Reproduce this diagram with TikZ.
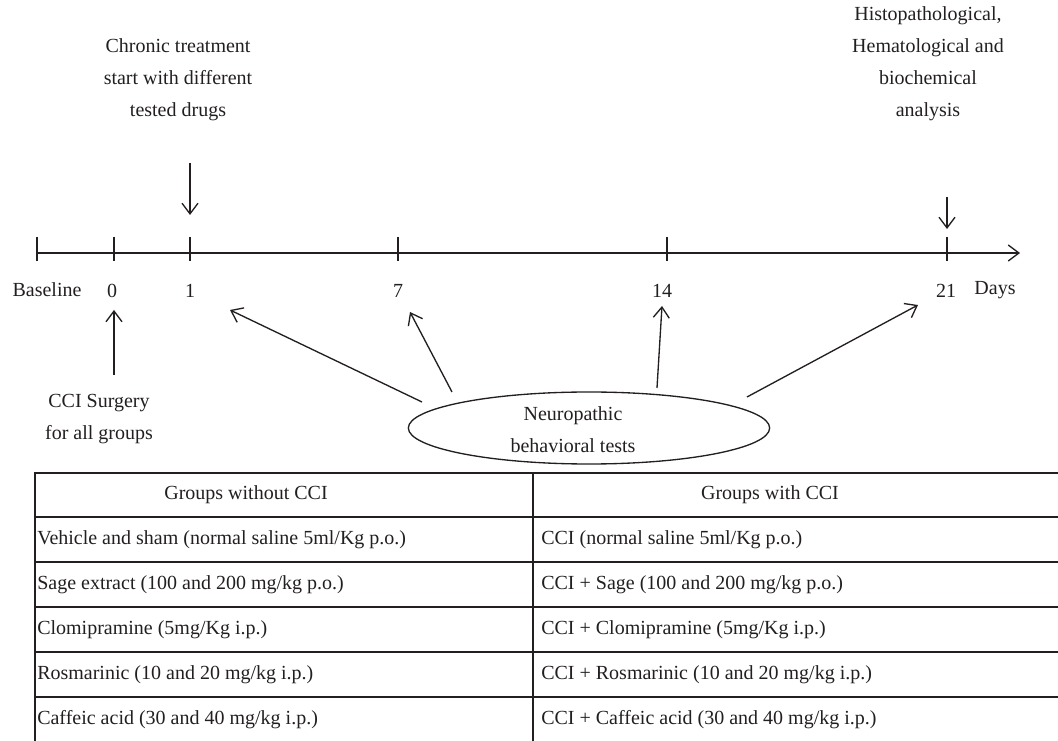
\documentclass[tikz,border=0pt]{standalone}
\usepackage{fontspec}
\setmainfont{Liberation Serif}
\usetikzlibrary{arrows.meta,shapes.geometric}
\definecolor{ink}{HTML}{231F20}
\begin{document}
\begin{tikzpicture}[x=0.75pt,y=-0.75pt,
  every node/.style={text=ink},
  lbl/.style={font=\fontsize{15}{24}\selectfont, inner sep=0pt, align=center},
  cell/.style={font=\fontsize{15}{18}\selectfont, inner sep=0pt, anchor=west},
  arr/.style={draw=ink, line width=1pt, -{Straight Barb[length=8pt,width=12pt,line width=1pt]}},
  axis/.style={draw=ink, line width=1.4pt},
  tbl/.style={draw=ink, line width=2pt}]
\useasboundingbox (0,0) rectangle (1058,741);

% timeline
\coordinate (tb) at (37,253);
\coordinate (tz) at (114,253);
\coordinate (t1) at (190,253);
\coordinate (t7) at (398,253);
\coordinate (t14) at (667,253);
\coordinate (t21) at (947,253);
\coordinate (tend) at (1020,253);
\draw[axis, -{Straight Barb[length=8pt,width=12pt,line width=1pt]}] (tb) -- (tend);
\foreach \c in {tb,tz,t1,t7,t14,t21}
  \draw[axis] (\c) ++(0,-16) -- ++(0,24);

% axis labels
\node[lbl] (lbase) at (47,290) {Baseline};
\node[lbl] (l0) at (112,291) {0};
\node[lbl] (l1) at (190,291) {1};
\node[lbl] (l7) at (398,291) {7};
\node[lbl] (l14) at (662,291) {14};
\node[lbl] (l21) at (946,291) {21};
\node[lbl] (ldays) at (995,290) {Days};

% top annotations
\node[lbl] (chronic) at (178,80) {Chronic treatment\\start with different\\tested drugs};
\node[lbl] (histo) at (928,64) {Histopathological,\\Hematological and\\biochemical\\analysis};
\coordinate (chrA) at (190,163);
\coordinate (chrB) at (190,215);
\draw[arr] (chrA) -- (chrB);
\coordinate (hisA) at (947,197);
\coordinate (hisB) at (947,229);
\draw[arr] (hisA) -- (hisB);

% CCI surgery
\node[lbl] (cci) at (99,419) {CCI Surgery\\for all groups};
\coordinate (cciA) at (114,375);
\coordinate (cciB) at (114,310);
\draw[arr] (cciA) -- (cciB);

% ellipse
\node[draw=ink, line width=1pt, ellipse, minimum width=271pt, minimum height=54pt, inner sep=0pt] (ell) at (589,428) {};
\node[lbl] (neuro) at (573,430) {Neuropathic\\behavioral tests};
\coordinate (e1) at (422,402);
\coordinate (p1) at (230,310);
\coordinate (e7) at (452,392);
\coordinate (p7) at (410,312);
\coordinate (e14) at (657,388);
\coordinate (p14) at (662,306);
\coordinate (e21) at (747,397);
\coordinate (p21) at (918,305);
\draw[arr] (e1) -- (p1);
\draw[arr] (e7) -- (p7);
\draw[arr] (e14) -- (p14);
\draw[arr] (e21) -- (p21);

% table
\foreach \y in {473,517,562,607,652,697}
  \draw[tbl] (35,\y) -- (1058,\y);
\draw[tbl] (35,472) -- (35,741);
\draw[tbl] (533,472) -- (533,741);

\node[lbl] (h1) at (246,495) {Groups without CCI};
\node[lbl] (h2) at (770,495) {Groups with CCI};
\node[cell] (a1) at (37,540) {Vehicle and sham (normal saline 5ml/Kg p.o.)};
\node[cell] (a2) at (37,585) {Sage extract (100 and 200 mg/kg p.o.)};
\node[cell] (a3) at (37,630) {Clomipramine (5mg/Kg i.p.)};
\node[cell] (a4) at (37,675) {Rosmarinic (10 and 20 mg/kg i.p.)};
\node[cell] (a5) at (37,720) {Caffeic acid (30 and 40 mg/kg i.p.)};
\node[cell] (b1) at (541,540) {CCI (normal saline 5ml/Kg p.o.)};
\node[cell] (b2) at (541,585) {CCI + Sage (100 and 200 mg/kg p.o.)};
\node[cell] (b3) at (541,630) {CCI + Clomipramine (5mg/Kg i.p.)};
\node[cell] (b4) at (541,675) {CCI + Rosmarinic (10 and 20 mg/kg i.p.)};
\node[cell] (b5) at (541,720) {CCI + Caffeic acid (30 and 40 mg/kg i.p.)};
\end{tikzpicture}
\end{document}
